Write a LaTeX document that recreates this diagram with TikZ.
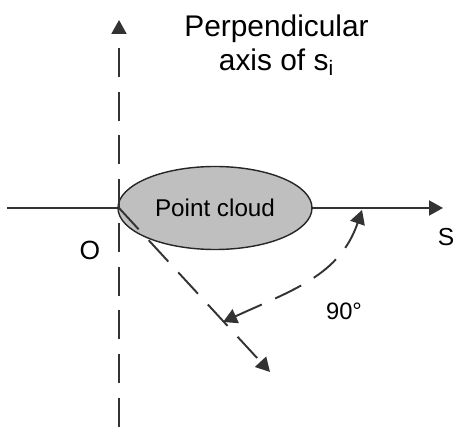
\documentclass[tikz,border=0pt]{standalone}
\usepackage{fontspec}
\setmainfont{Liberation Sans}
\usetikzlibrary{
    arrows.meta,
    shapes.geometric
}
\tikzstyle{axis} = [
    -{Triangle[length=0.28cm, width=0.3cm]},
    line width=1.1pt,
    draw=black!80
]
\tikzstyle{dashaxis} = [
    axis,
    dash pattern=on 0.58cm off 0.295cm
]
\tikzstyle{dasharc} = [
    dashaxis,
    {Triangle[length=0.28cm, width=0.3cm]}-{Triangle[length=0.28cm, width=0.3cm]}
]
\tikzstyle{pointcloud} = [
    ellipse,
    draw=black!85,
    fill=gray!50,
    line width=0.8pt,
    minimum width=3.88cm,
    minimum height=1.66cm,
    inner sep=0pt
]

\begin{document}
\begin{tikzpicture}
        \useasboundingbox (0,0) rectangle (9.12,8.6);

        % Key points
        \coordinate (O) at (2.38,4.44);
        \coordinate (sL) at (0.14,4.44);
        \coordinate (sR) at (8.86,4.44);
        \coordinate (pB) at (2.38,0.06);
        \coordinate (pT) at (2.38,8.2);
        \coordinate (dT) at (5.40,1.16);
        \coordinate (arcA) at (4.46,2.16);
        \coordinate (arcB) at (7.24,4.40);

        % Axis s_i
        \draw[axis] (sL) -- (sR);

        % Point cloud
        \node[pointcloud, font=\fontsize{13.8}{16}\selectfont] (cloud) at (4.30,4.44) {Point cloud};

        % Perpendicular axis (dashed)
        \draw[dashaxis] (pB) -- (pT);

        % Rotated axis
        \draw[dashaxis] (O) -- (dT);

        % 90 degree turn
        \draw[dasharc] (arcA) .. controls (5.86,2.80) and (6.80,3.10) .. (arcB);

        % Labels
        \node[align=center, font=\fontsize{17}{19.4}\selectfont] (perp) at (5.53,7.70) {Perpendicular\\axis of s\textsubscript{i}};
        \node[font=\fontsize{15}{17}\selectfont] (origin) at (1.80,3.60) {O};
        \node[font=\fontsize{13.5}{16}\selectfont] (angle) at (6.88,2.38) {90°};
        \node[font=\fontsize{14}{16}\selectfont] (slabel) at (8.92,3.86) {S};
    \end{tikzpicture}
\end{document}
